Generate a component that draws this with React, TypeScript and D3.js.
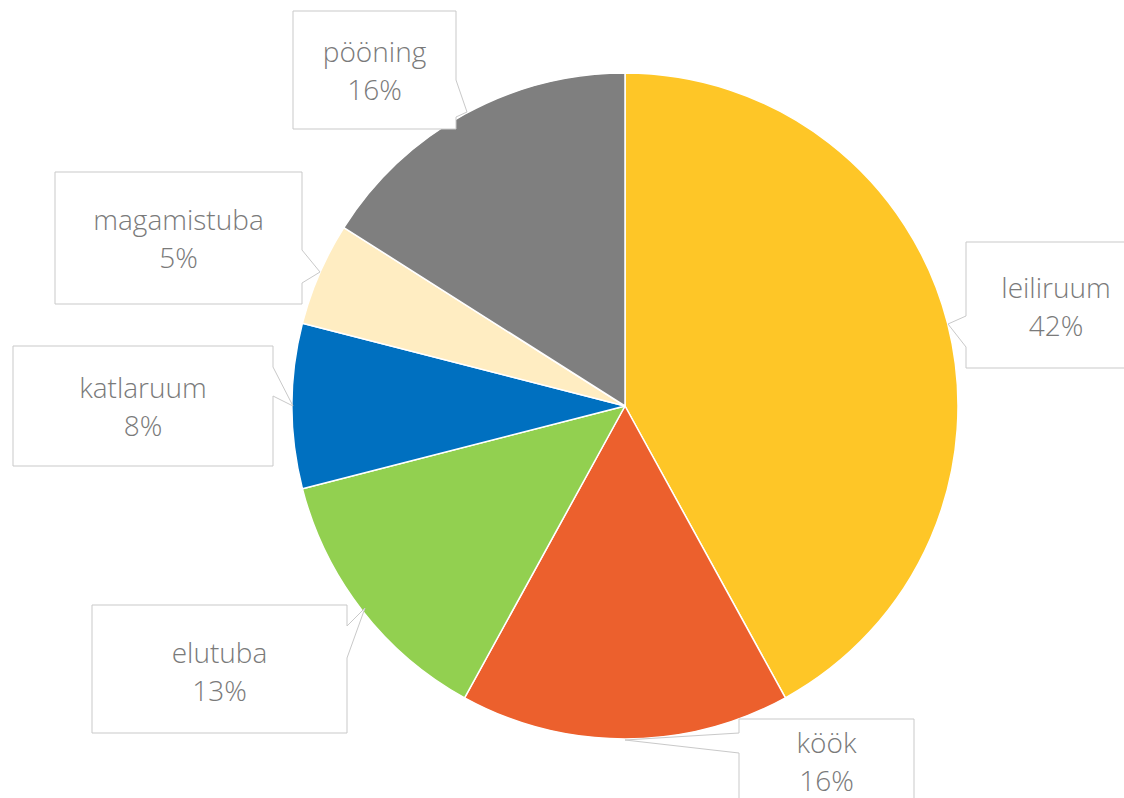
import React from "react";
import * as d3 from "d3";

const categories = ["leiliruum", "köök", "elutuba", "katlaruum", "magamistuba", "pööning"];
const values = [42, 16, 13, 8, 5, 16];
const colors = ["#FEC627", "#EC602D", "#92D050", "#0070C0", "#FFEDC2", "#7F7F7F"];

// callout layout: box (x0,y0,x1,y1), pointer side, pointer base range and tip
type Callout = { x0: number; y0: number; x1: number; y1: number; side: "l" | "r"; b1: number; b2: number; tx: number; ty: number; };
const callouts: Callout[] = [
  { x0: 966, y0: 242, x1: 1146, y1: 368, side: "l", b1: 316, b2: 347, tx: 948, ty: 324 },
  { x0: 739, y0: 719, x1: 914, y1: 843, side: "l", b1: 733, b2: 753, tx: 625, ty: 740 },
  { x0: 92, y0: 605, x1: 347, y1: 733, side: "r", b1: 626, b2: 658, tx: 365, ty: 608 },
  { x0: 13, y0: 346, x1: 273, y1: 466, side: "r", b1: 367, b2: 396, tx: 293, ty: 406 },
  { x0: 55, y0: 172, x1: 302, y1: 304, side: "r", b1: 250, b2: 283, tx: 320, ty: 272 },
  { x0: 293, y0: 11, x1: 456, y1: 129, side: "r", b1: 80, b2: 117, tx: 467, ty: 112 },
];
const textY = [287, 742, 652, 387, 219, 51];

export default function App() {
  const W = 1124, H = 798;
  const cx = 625, cy = 406, r = 333;
  const pie = d3.pie<number>().sort(null).value((d) => d);
  const arcs = pie(values);
  const arcGen = d3.arc<d3.PieArcDatum<number>>().innerRadius(0).outerRadius(r);
  const total = d3.sum(values);
  const fmt = (v: number) => `${Math.round((v / total) * 100)}%`;

  const calloutPath = (c: Callout) => {
    if (c.side === "l") {
      return `M${c.x0},${c.y0} L${c.x1},${c.y0} L${c.x1},${c.y1} L${c.x0},${c.y1} L${c.x0},${c.b2} L${c.tx},${c.ty} L${c.x0},${c.b1} Z`;
    }
    return `M${c.x0},${c.y0} L${c.x1},${c.y0} L${c.x1},${c.b1} L${c.tx},${c.ty} L${c.x1},${c.b2} L${c.x1},${c.y1} L${c.x0},${c.y1} Z`;
  };

  const textProps = {
    textAnchor: "middle" as const,
    dominantBaseline: "central" as const,
    fontFamily: "'Open Sans', sans-serif",
    fontWeight: 300,
    fontSize: 28,
    fill: "#7A7A7A",
  };

  return (
    <svg width={W} height={H} style={{ position: "absolute", left: 0, top: 0, display: "block" }}>
      <rect width={W} height={H} fill="#fff" />
      <g transform={`translate(${cx},${cy})`}>
        {arcs.map((a, i) => (
          <path key={i} d={arcGen(a) || ""} fill={colors[i]} stroke="#fff" strokeWidth={1.5} strokeLinejoin="round" />
        ))}
      </g>
      {callouts.map((c, i) => {
        const mx = (c.x0 + c.x1) / 2;
        return (
          <g key={i}>
            <path d={calloutPath(c)} fill="#fff" stroke="#C9C9C9" strokeWidth={1} />
            <text x={mx} y={textY[i]} {...textProps}>{categories[i]}</text>
            <text x={mx} y={textY[i] + 38} {...textProps}>{fmt(values[i])}</text>
          </g>
        );
      })}
    </svg>
  );
}
